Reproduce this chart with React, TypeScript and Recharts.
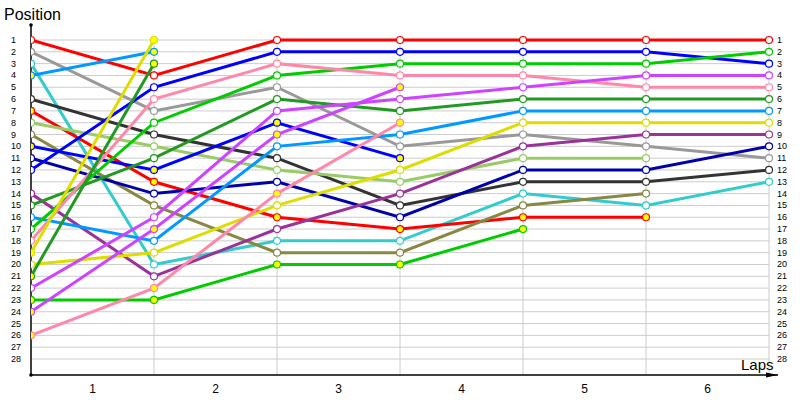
import { LineChart, Line, XAxis, YAxis, ReferenceLine, ReferenceDot } from 'recharts'

if (typeof document !== 'undefined') document.body.style.margin = '0'

// laps 0..6, position of each car at the end of the lap (null = retired)
const laps = [0, 1, 2, 3, 4, 5, 6]
const positions = Array.from({ length: 28 }, (_, i) => i + 1)
const lapLabels = ['1', '2', '3', '4', '5', '6']

const redA = [1, 4, 1, 1, 1, 1, 1]
const grayA = [2, 7, 5, 10, 9, 10, 11]
const cyanA = [3, 20, 18, 18, 14, 15, 13]
const skyB = [4, 2, null, null, null, null, null]
const blackA = [6, 9, 11, 15, 13, 13, 12]
const redB = [7, 13, 16, 17, 16, 16, null]
const limeA = [8, 10, 12, 13, 11, 11, null]
const oliveA = [9, 15, 19, 19, 15, 14, null]
const blueB = [10, 12, 8, 11, null, null, null]
const navyA = [11, 14, 13, 16, 12, 12, 10]
const blueA = [12, 5, 2, 2, 2, 2, 3]
const purpleA = [14, 21, 17, 14, 10, 9, 9]
const forestA = [15, 11, 6, 7, 6, 6, 6]
const skyA = [16, 18, 10, 9, 7, 7, 7]
const greenA = [17, 8, 4, 3, 3, 3, 2]
const pinkA = [18, 6, 3, 4, 4, 5, 5]
const yellowB = [19, 1, null, null, null, null, null]
const yellowA = [20, 19, 15, 12, 8, 8, 8]
const forestB = [21, 3, null, null, null, null, null]
const violetA = [22, 16, 7, 6, 5, 4, 4]
const greenB = [23, 23, 20, 20, 17, null, null]
const violetB = [24, 17, 9, 5, null, null, null]
const pinkB = [26, 22, 14, 8, null, null, null]

const WHITE = '#ffffff'
const YELLOW = '#ffff00'

const series = [
  { key: 'redA', data: redA, color: '#ff0000', fill: WHITE },
  { key: 'grayA', data: grayA, color: '#999999', fill: WHITE },
  { key: 'cyanA', data: cyanA, color: '#33cccc', fill: WHITE },
  { key: 'skyB', data: skyB, color: '#0099ff', fill: YELLOW },
  { key: 'blackA', data: blackA, color: '#333333', fill: WHITE },
  { key: 'redB', data: redB, color: '#ff0000', fill: YELLOW },
  { key: 'limeA', data: limeA, color: '#99cc66', fill: WHITE },
  { key: 'oliveA', data: oliveA, color: '#888844', fill: WHITE },
  { key: 'blueB', data: blueB, color: '#0000ff', fill: YELLOW },
  { key: 'navyA', data: navyA, color: '#0000aa', fill: WHITE },
  { key: 'blueA', data: blueA, color: '#0000ff', fill: WHITE },
  { key: 'purpleA', data: purpleA, color: '#993399', fill: WHITE },
  { key: 'forestA', data: forestA, color: '#229922', fill: WHITE },
  { key: 'skyA', data: skyA, color: '#0099ff', fill: WHITE },
  { key: 'greenA', data: greenA, color: '#00cc00', fill: WHITE },
  { key: 'pinkA', data: pinkA, color: '#ff88aa', fill: WHITE },
  { key: 'yellowB', data: yellowB, color: '#dddd00', fill: YELLOW },
  { key: 'yellowA', data: yellowA, color: '#dddd00', fill: WHITE },
  { key: 'forestB', data: forestB, color: '#229922', fill: YELLOW },
  { key: 'violetA', data: violetA, color: '#cc44ff', fill: WHITE },
  { key: 'greenB', data: greenB, color: '#00cc00', fill: YELLOW },
  { key: 'violetB', data: violetB, color: '#cc44ff', fill: YELLOW },
  { key: 'pinkB', data: pinkB, color: '#ff88aa', fill: YELLOW },
]

const rows = laps.map((lap, i) => {
  const row: Record<string, number | null> = { lap }
  series.forEach(s => { row[s.key] = s.data[i] })
  return row
})

const Y_MIN = -0.27
const Y_MAX = 29.354
const X_MAX = 6.073
const FONT = '"Liberation Sans", Arial, sans-serif'

function PosTick({ y, payload }: { y?: number; payload?: { value: number } }) {
  return (
    <g>
      <text x={11} y={y} dominantBaseline="central" fontSize={9} fontFamily={FONT} fill="#000">{payload?.value}</text>
      <text x={777} y={y} dominantBaseline="central" fontSize={9} fontFamily={FONT} fill="#000">{payload?.value}</text>
    </g>
  )
}

function LapTick({ x, payload }: { x?: number; payload?: { value: number } }) {
  return (
    <text x={x} y={393} textAnchor="middle" fontSize={12} fontFamily={FONT} fill="#000">
      {lapLabels[Math.floor(payload?.value ?? 0)]}
    </text>
  )
}

function Arrow({ cx, cy }: { cx?: number; cy?: number }) {
  if (cx == null || cy == null) return null
  return <path d={`M${cx - 12},${cy - 2.5} L${cx},${cy} L${cx - 12},${cy + 2.5} Z`} fill="#000" />
}

export default function App() {
  return (
    <div style={{ position: 'relative', width: 800, height: 400, background: '#fff' }}>
      <LineChart width={800} height={400} data={rows} margin={{ top: 25, right: 22, bottom: 0, left: 0 }}>
        {positions.map(p => (
          <ReferenceLine key={'h' + p} segment={[{ x: 0, y: p }, { x: 6, y: p }]} stroke="#cccccc" strokeWidth={1} />
        ))}
        {laps.slice(1).map(l => (
          <ReferenceLine key={'v' + l} segment={[{ x: l, y: 1 }, { x: l, y: Y_MAX }]} stroke="#cccccc" strokeWidth={1} />
        ))}
        <XAxis
          dataKey="lap" type="number" domain={[0, X_MAX]} allowDataOverflow
          ticks={[0.5, 1.5, 2.5, 3.5, 4.5, 5.5]} interval={0}
          axisLine={{ stroke: '#000', strokeWidth: 1.5 }} tickLine={false} height={25}
          tick={<LapTick />}
        />
        <YAxis
          type="number" domain={[Y_MIN, Y_MAX]} allowDataOverflow reversed
          ticks={positions} interval={0} width={31}
          axisLine={{ stroke: '#000', strokeWidth: 1.5 }} tickLine={false}
          tick={<PosTick />}
        />
        {series.map(s => (
          <Line
            key={s.key} dataKey={s.key} stroke={s.color} strokeWidth={3}
            dot={false} activeDot={false} isAnimationActive={false}
          />
        ))}
        {series.map(s => (
          <Line
            key={s.key + '-m'} dataKey={s.key} stroke="none" strokeWidth={0}
            dot={{ r: 3.5, fill: s.fill, stroke: s.color, strokeWidth: 1.2 }}
            activeDot={false} isAnimationActive={false} legendType="none"
          />
        ))}
        <ReferenceDot x={X_MAX} y={Y_MAX} ifOverflow="visible" shape={<Arrow />} />
        <ReferenceDot x={0} y={Y_MIN} r={1.8} fill="#000" stroke="none" ifOverflow="visible" />
        <ReferenceDot x={0} y={Y_MAX} r={1.8} fill="#000" stroke="none" ifOverflow="visible" />
      </LineChart>
      <div style={{ position: 'absolute', left: 4, top: 7, fontFamily: FONT, fontSize: 16, lineHeight: '16px' }}>Position</div>
      <div style={{ position: 'absolute', left: 741, top: 357, fontFamily: FONT, fontSize: 15, lineHeight: '15px' }}>Laps</div>
    </div>
  )
}
